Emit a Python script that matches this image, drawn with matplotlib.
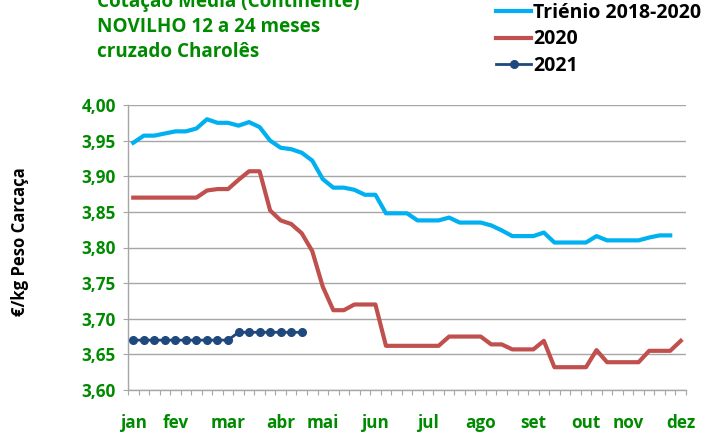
import matplotlib
matplotlib.use("Agg")
import matplotlib.pyplot as plt
import numpy as np

# ---- data ----
month_labels = ["jan", "fev", "mar", "abr", "mai", "jun", "jul", "ago", "set", "out", "nov", "dez"]
month_weeks = [0, 4, 9, 14, 18, 23, 28, 33, 38, 43, 47, 52]

trienio = [3.947, 3.957, 3.957, 3.960, 3.963, 3.963, 3.967, 3.980, 3.975, 3.975,
           3.971, 3.976, 3.969, 3.950, 3.940, 3.938, 3.933, 3.922, 3.896, 3.884,
           3.884, 3.881, 3.874, 3.874, 3.848, 3.848, 3.848, 3.838, 3.838, 3.838,
           3.842, 3.835, 3.835, 3.835, 3.831, 3.824, 3.816, 3.816, 3.816, 3.821,
           3.807, 3.807, 3.807, 3.807, 3.816, 3.810, 3.810, 3.810, 3.810, 3.814,
           3.817, 3.817]
y2020 = [3.870, 3.870, 3.870, 3.870, 3.870, 3.870, 3.870, 3.880, 3.882, 3.882,
         3.895, 3.907, 3.907, 3.852, 3.838, 3.833, 3.820, 3.795, 3.745, 3.712,
         3.712, 3.720, 3.720, 3.720, 3.662, 3.662, 3.662, 3.662, 3.662, 3.662,
         3.675, 3.675, 3.675, 3.675, 3.664, 3.664, 3.657, 3.657, 3.657, 3.669,
         3.632, 3.632, 3.632, 3.632, 3.656, 3.639, 3.639, 3.639, 3.639, 3.655,
         3.655, 3.655, 3.669]
y2021 = [3.670, 3.670, 3.670, 3.670, 3.670, 3.670, 3.670, 3.670, 3.670, 3.670,
         3.681, 3.681, 3.681, 3.681, 3.681, 3.681, 3.681]
yticks = [3.60, 3.65, 3.70, 3.75, 3.80, 3.85, 3.90, 3.95, 4.00]

title_lines = "Cotação Média (Continente)\nNOVILHO 12 a 24 meses\ncruzado Charolês"
ylabel = "€/kg Peso Carcaça"

# ---- style ----
plt.rcParams['font.family'] = ['Open Sans', 'DejaVu Sans']
green = "#008A00"
W, H = 702, 434
fig = plt.figure(figsize=(W / 100, H / 100), dpi=100)
ax = fig.add_axes([128 / W, 1 - 390 / H, (686 - 128) / W, (390 - 105) / H])

ax.plot(range(len(trienio)), trienio, color="#00B0F0", lw=3.0, label="Triénio 2018-2020",
        solid_joinstyle="round", zorder=3)
ax.plot(range(len(y2020)), y2020, color="#C0504D", lw=3.0, label="2020",
        solid_joinstyle="round", zorder=3)
ax.plot(range(len(y2021)), y2021, color="#1F497D", lw=2.0, marker="o", ms=5.5,
        label="2021", zorder=4)

ax.set_xlim(-0.5, 52.5)
ax.set_ylim(3.60, 4.00)
ax.set_yticks(yticks)
ax.set_yticklabels([f"{v:.2f}".replace(".", ",") for v in yticks])
ax.set_xticks(month_weeks)
ax.set_xticklabels(month_labels)
ax.set_xticks(np.arange(-0.5, 53, 1), minor=True)
ax.tick_params(axis="x", which="major", length=0, pad=17)
ax.tick_params(axis="x", which="minor", length=3.6, color="#A6A6A6", width=0.8)
ax.tick_params(axis="y", length=3.6, color="#A6A6A6", width=0.8, pad=5)
for lab in ax.get_xticklabels() + ax.get_yticklabels():
    lab.set_color(green)
    lab.set_fontweight("bold")
    lab.set_fontsize(12.3)

ax.grid(axis="y", color="#A6A6A6", lw=1.0)
ax.set_axisbelow(True)
for s in ["top", "right"]:
    ax.spines[s].set_visible(False)
for s in ["left", "bottom"]:
    ax.spines[s].set_color("#A6A6A6")
    ax.spines[s].set_linewidth(1.0)

fig.text(20 / W, 1 - 242 / H, ylabel, rotation=90, ha="center", va="center",
         fontsize=12, fontweight="bold", color="black")

fig.text(97 / W, 1 - 27 / H, title_lines, ha="left", va="center", fontsize=13.6,
         fontweight="bold", color=green, linespacing=1.33, multialignment="left")

fig.legend(loc="upper left", bbox_to_anchor=(496 / W, 1 - 3 / H), frameon=False,
           prop={"weight": "bold", "size": 14}, handlelength=1.8,
           handletextpad=0.12, labelspacing=0.33, borderaxespad=0, borderpad=0)

fig.savefig("out.png", dpi=100)
